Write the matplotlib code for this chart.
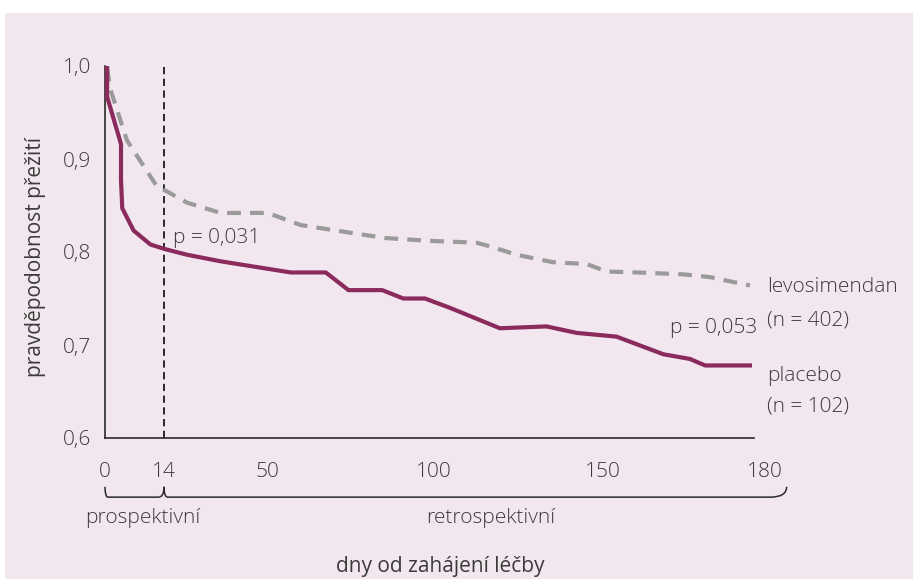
import numpy as np
import matplotlib
matplotlib.use("Agg")
import matplotlib.pyplot as plt
from matplotlib.patches import Rectangle, PathPatch
from matplotlib.path import Path
import matplotlib.transforms as mtransforms

# ---------------- data ----------------
placebo_days = [0.5, 0.5, 3.8, 3.8, 4.1, 6.8, 10.8, 14.5, 22.1, 33.8, 57.1, 67.6, 74.4,
                84.5, 90.8, 97.3, 104.7, 119.5, 133.3, 142.2, 152.5, 161.2, 166.1, 168.9, 177.2]
placebo_surv = [1.0, 0.967, 0.916, 0.877, 0.847, 0.823, 0.808, 0.803, 0.797, 0.790, 0.778, 0.778, 0.759,
                0.759, 0.750, 0.750, 0.740, 0.718, 0.720, 0.713, 0.709, 0.690, 0.685, 0.678, 0.678]

levo_days = [0.5, 1.2, 5.2, 12.4, 15.1, 22.1, 33.8, 50.2, 60.1, 69.0, 85.4, 98.8, 112.6,
             116.6, 124.5, 135.2, 145.2, 150.7, 156.3, 164.8, 169.8, 177.2]
levo_surv = [0.998, 0.976, 0.920, 0.870, 0.865, 0.853, 0.842, 0.842, 0.829, 0.824, 0.815, 0.812, 0.810,
             0.806, 0.797, 0.789, 0.787, 0.779, 0.778, 0.776, 0.773, 0.764]

x_ticks = [0, 14, 50, 100, 150, 180]
y_ticks = [0.6, 0.7, 0.8, 0.9, 1.0]
y_ticklabels = ["0,6", "0,7", "0,8", "0,9", "1,0"]

# the printed axis is not linear: relative positions of the labelled days
scale_days = np.array([0, 14, 50, 100, 150, 180], dtype=float)
scale_pos = np.array([0, 59, 162, 329, 498, 660], dtype=float)

def fwd(x):
    x = np.asarray(x, dtype=float)
    return np.where(x <= 180, np.interp(x, scale_days, scale_pos),
                    scale_pos[-1] + (x - 180) * (scale_pos[-1] - scale_pos[-2]) / 30)

def inv(p):
    p = np.asarray(p, dtype=float)
    return np.where(p <= scale_pos[-1], np.interp(p, scale_pos, scale_days),
                    180 + (p - scale_pos[-1]) * 30 / (scale_pos[-1] - scale_pos[-2]))

# ---------------- style ----------------
W, H = 913, 579
plt.rcParams['font.family'] = ['Open Sans', 'DejaVu Sans']
plt.rcParams['font.weight'] = 'light'
txt = '#3b3b3b'
fs = 15
bg = '#F2E7EE'
purple = '#8B2A5C'
grey = '#9A9A9A'

fig = plt.figure(figsize=(W / 100, H / 100), dpi=100)
fig.patch.set_facecolor('white')
fig.patches.append(Rectangle((5 / W, 0), 1, 1 - 13 / H, transform=fig.transFigure,
                             facecolor=bg, edgecolor='none', zorder=-10))

ax = fig.add_axes([105 / W, 1 - 438 / H, 660 / W, 372 / H])
ax.set_facecolor('none')
ax.set_xscale('function', functions=(fwd, inv))
ax.set_xlim(0, 180)
ax.set_ylim(0.6, 1.0)

ax.plot(levo_days, levo_surv, color=grey, lw=3.0, linestyle=(0, (3.3, 2.2)),
        solid_capstyle='butt', zorder=3)
ax.plot(placebo_days, placebo_surv, color=purple, lw=3.0, solid_joinstyle='round', zorder=4)

ax.axvline(14, color='#1a1a1a', lw=1.3, linestyle=(0, (4, 2.5)), zorder=2)

for s in ['top', 'right']:
    ax.spines[s].set_visible(False)
for s in ['left', 'bottom']:
    ax.spines[s].set_color('#2a2a2a')
    ax.spines[s].set_linewidth(1.2)
ax.spines['bottom'].set_bounds(0, 178)

ax.set_xticks(x_ticks)
ax.set_xticklabels([str(t) for t in x_ticks])
ax.set_yticks(y_ticks)
ax.set_yticklabels(y_ticklabels)
ax.tick_params(axis='both', length=0, labelsize=fs, labelcolor=txt)
ax.tick_params(axis='x', pad=17)
ax.tick_params(axis='y', pad=10)
ax.minorticks_off()

ax.set_ylabel('pravděpodobnost přežití', fontsize=fs, color=txt, va='center')
ax.yaxis.set_label_coords(-0.106, 0.487)
ax.set_xlabel('dny od zahájení léčby', fontsize=fs, color=txt, va='baseline')
ax.xaxis.set_label_coords(0.508, -(572 - 438) / 372)

# annotations
ax.text(17.3, 0.8097, 'p = 0,031', fontsize=fs, color=txt, ha='left', va='baseline')
ax.text(178.5, 0.7126, 'p = 0,053', fontsize=fs, color=txt, ha='right', va='baseline')
ax.text(180.4, 0.7565, 'levosimendan', fontsize=fs, color=txt, ha='left', va='baseline')
ax.text(180.4, 0.7215, '(n = 402)', fontsize=fs, color=txt, ha='left', va='baseline')
ax.text(180.4, 0.661, 'placebo', fontsize=fs, color=txt, ha='left', va='baseline')
ax.text(180.4, 0.628, '(n = 102)', fontsize=fs, color=txt, ha='left', va='baseline')

# braces under the axis
trans = mtransforms.blended_transform_factory(ax.transData, ax.transAxes)
ytop, ybot = -0.131, -0.159

def brace(x0, x1, hook0, hook1):
    verts = [(x0, ytop), (x0, ybot), (x0 + hook0, ybot),
             (x1 - hook1, ybot), (x1, ybot), (x1, ytop)]
    codes = [Path.MOVETO, Path.CURVE3, Path.CURVE3, Path.LINETO, Path.CURVE3, Path.CURVE3]
    ax.add_patch(PathPatch(Path(verts, codes), facecolor='none', edgecolor='#2a2a2a', lw=1.1,
                           transform=trans, clip_on=False))

brace(-0.6, 14, 1.3, 1.3)
brace(14, 184, 1.3, 3.0)

lab_y = -(523 - 438) / 372
ax.text(8.9, lab_y, 'prospektivní', transform=trans, fontsize=fs, color=txt,
        ha='center', va='baseline')
ax.text(116.9, lab_y, 'retrospektivní', transform=trans, fontsize=fs, color=txt,
        ha='center', va='baseline')

fig.savefig('out.png', dpi=100, facecolor=fig.get_facecolor())
